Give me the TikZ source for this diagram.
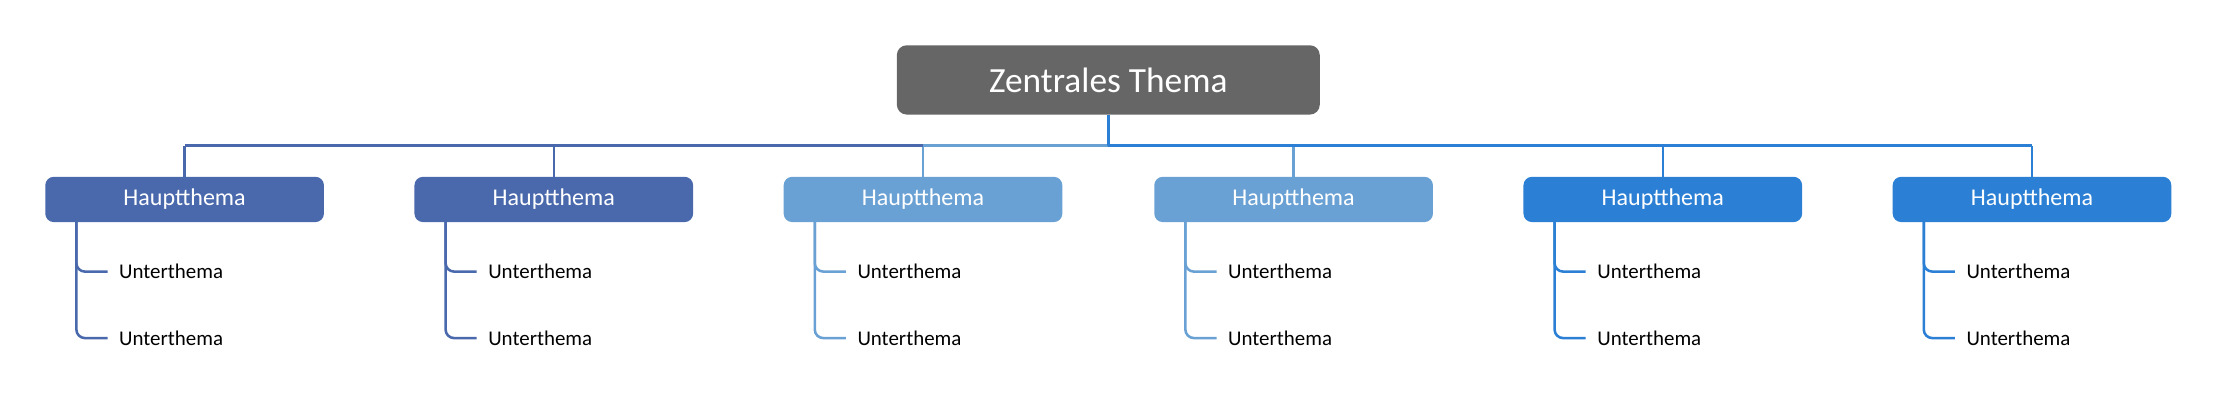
\documentclass[tikz,border=0pt]{standalone}
\usepackage{fontspec}
\setmainfont{Carlito}
\definecolor{cdark}{HTML}{4A69AD}
\definecolor{clight}{HTML}{6AA1D4}
\definecolor{cbright}{HTML}{2B7FD4}
\definecolor{croot}{HTML}{666666}
\begin{document}
\begin{tikzpicture}[x=1pt,y=-1pt,
  rootbox/.style={fill=croot,rounded corners=7pt,minimum width=299pt,minimum height=49pt,text=white,font=\fontsize{25}{27}\selectfont,inner sep=0pt},
  mainbox/.style={fill=#1,rounded corners=6pt,minimum width=197pt,minimum height=32pt,text=white,font=\fontsize{17}{19}\selectfont,inner sep=0pt},
  subbox/.style={anchor=west,inner xsep=8pt,inner ysep=0pt,font=\fontsize{14.8}{16}\selectfont,text=black},
  conn/.style={draw=#1,line width=1.8pt},
  subline/.style={draw=#1,line width=1.8pt,rounded corners=6pt}]
\useasboundingbox (0,0) rectangle (1568,294);
\node[rootbox] (root) at (783.5,56.5) {Zentrales Thema};
\foreach \i/\cx/\col in {1/130.5/cdark,2/391.5/cdark,3/652.5/clight,4/914.5/clight,5/1175.5/cbright,6/1436.5/cbright}{
  \node[mainbox=\col] (m\i) at (\cx,141) {Hauptthema};
  \coordinate (j\i) at (\cx,103);
  \coordinate (v\i) at (\cx-76.5,157);
  \node[subbox] (s\i a) at (\cx-54.5,192) {Unterthema};
  \node[subbox] (s\i b) at (\cx-54.5,239) {Unterthema};
  \draw[conn=\col] (m\i.north) -- (j\i);
  \draw[subline=\col] (v\i) |- (s\i a.west);
  \draw[subline=\col] (v\i) |- (s\i b.west);
}
\coordinate (jr) at (783.5,103);
\draw[conn=cdark] (j1) -- (j3);
\draw[conn=clight] (j3) -- (jr);
\draw[conn=cbright] (jr) -- (j6);
\draw[conn=cbright] (root.south) -- (jr);
\end{tikzpicture}
\end{document}
